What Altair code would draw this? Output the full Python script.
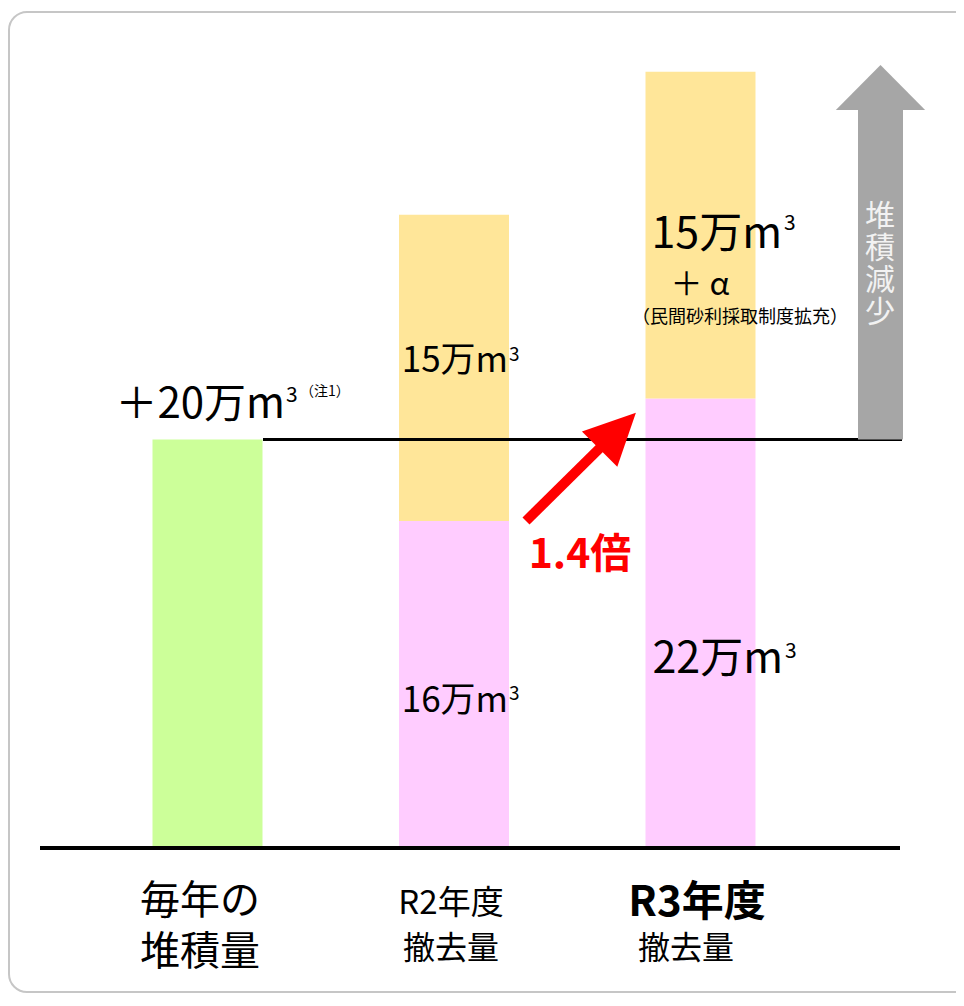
import altair as alt
import pandas as pd

# ---------------- data ----------------
categories = ["毎年の堆積量", "R2年度撤去量", "R3年度撤去量"]
bar_category = ["毎年の堆積量", "R2年度撤去量", "R2年度撤去量", "R3年度撤去量", "R3年度撤去量"]
bar_part = ["堆積量", "撤去量（従来）", "撤去量（砂利採取）", "撤去量（従来）", "撤去量（砂利採取）"]
bar_value = [20, 16, 15, 22, 16]          # 万m3 (R3 upper = 15 + α, drawn ~16)
bar_order = [0, 0, 1, 0, 1]
part_names = ["堆積量", "撤去量（従来）", "撤去量（砂利採取）"]
part_colors = ["#CCFF99", "#FFCCFF", "#FFE699"]
annual_accumulation = 20
arrow_label = ["堆", "積", "減", "少"]

# ---------------- layout ----------------
W, H = 948, 986
BASE_PX = 840.0      # pixel row of value 0
PPU = 20.43          # pixels per 万m3
y_dom = [-(H - BASE_PX) / PPU, BASE_PX / PPU]
FONT = "Noto Sans CJK JP"

xscale = alt.Scale(domain=categories, paddingInner=0.55375, paddingOuter=0.69980,
                   align=0.41884, round=False)
yscale = alt.Scale(domain=y_dom, nice=False, zero=False)

df = pd.DataFrame({"cat": bar_category, "part": bar_part,
                   "value": bar_value, "order": bar_order})

one = pd.DataFrame({"a": [0]})

border = alt.Chart(one).mark_rect(
    fill="white", fillOpacity=0, stroke="#C6C6C6", strokeWidth=2, cornerRadius=18
).encode(x=alt.value(1), x2=alt.value(968), y=alt.value(4), y2=alt.value(984))

bars = alt.Chart(df).mark_bar(stroke="white").encode(
    x=alt.X("cat:N", scale=xscale, axis=None, sort=categories),
    y=alt.Y("value:Q", stack="zero", scale=yscale, axis=None),
    color=alt.Color("part:N", scale=alt.Scale(domain=part_names, range=part_colors), legend=None),
    strokeWidth=alt.StrokeWidth("part:N", scale=alt.Scale(domain=part_names, range=[0, 0, 2]),
                                legend=None),
    order=alt.Order("order:Q"),
)

level_line = alt.Chart(one).mark_rule(color="black", strokeWidth=3).encode(
    x=alt.value(255), x2=alt.value(894), y=alt.datum(annual_accumulation))

baseline = alt.Chart(one).mark_rule(color="black", strokeWidth=4).encode(
    x=alt.value(32), x2=alt.value(892), y=alt.datum(0))

gray_shaft = alt.Chart(one).mark_rect(color="#A6A6A6").encode(
    x=alt.value(850), x2=alt.value(895), y=alt.datum(annual_accumulation), y2=alt.value(102))

gray_head = alt.Chart(one).mark_point(
    shape="M-1,0.504 L1,0.504 L0,-0.504 Z", size=89.3 ** 2, filled=True,
    color="#A6A6A6", opacity=1, strokeWidth=0
).encode(x=alt.value(872.5), y=alt.value(79.5))

red_shaft = alt.Chart(one).mark_rule(color="#FF0000", strokeWidth=10, strokeCap="butt").encode(
    x=alt.value(518), y=alt.value(513), x2=alt.value(598), y2=alt.value(434))

red_head = alt.Chart(one).mark_point(
    shape="M-0.962,0.987 L0.962,0.987 L0,-0.987 Z", size=52 ** 2, angle=45, filled=True,
    color="#FF0000", opacity=1, strokeWidth=0
).encode(x=alt.value(609.75), y=alt.value(423))


def txt(text, x, y, size, align="left", weight="normal", color="black"):
    return alt.Chart(one).mark_text(
        text=text, font=FONT, fontSize=size, align=align, baseline="alphabetic",
        fontWeight=weight, color=color
    ).encode(x=alt.value(x), y=alt.value(y))


texts = [
    txt("＋20万m", 277, 410, 42, "right"),
    txt("3", 278, 394, 21),
    txt("（注1）", 292, 388, 14),
    txt("15万m", 500, 364, 35, "right"),
    txt("3", 501, 353, 19),
    txt("16万m", 500, 704, 35, "right"),
    txt("3", 501, 692, 19),
    txt("15万m", 774, 240, 43, "right"),
    txt("3", 776, 222, 21),
    txt("＋ α", 692, 287, 32, "center"),
    txt("（民間砂利採取制度拡充）", 732, 315, 18, "center"),
    txt("22万m", 775, 665, 43, "right"),
    txt("3", 777, 650, 21),
    txt("1.4倍", 572, 560, 41, "center", "bold", "#FF0000"),
    txt("毎年の", 132, 906, 40),
    txt("堆積量", 132, 957, 40),
    txt("R2年度", 443, 906, 33, "center"),
    txt("撤去量", 443, 951, 32, "center"),
    txt("R3年度", 689, 908, 42, "center", "bold"),
    txt("撤去量", 678, 951, 32, "center"),
]
for i, ch in enumerate(arrow_label):
    texts.append(txt(ch, 872, 218 + 32 * i, 30, "center", "normal", "#F2F2F2"))

chart = alt.layer(
    border, bars, level_line, baseline, gray_shaft, gray_head, red_shaft, red_head, *texts
).properties(
    width=W, height=H, padding=0, autosize="none", background="white"
).configure_view(stroke=None)

chart.save("out.html", embed_options={"renderer": "svg", "actions": False})
